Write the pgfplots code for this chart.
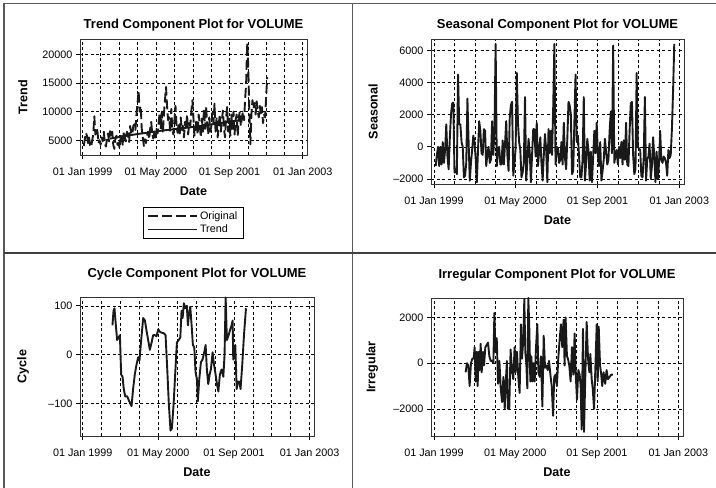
\documentclass[border=0pt]{standalone}
\usepackage{pgfplots}
\pgfplotsset{compat=1.18}
\usepackage{fontspec}
\setmainfont{Liberation Sans}

\pgfplotsset{
  dl/.style={black!90, line width=1.9pt, line join=round, mark=none},
  sas/.style={
    scale only axis, anchor=south west,
    axis line style={black!80, line width=0.8pt},
    xmin=-18, xmax=1489,
    xtick={0,486,974,1461},
    xticklabels={01 Jan 1999,01 May 2000,01 Sep 2001,01 Jan 2003},
    minor xtick={120,243,365,609,731,851,1096,1216,1339},
    xmajorgrids, xminorgrids, ymajorgrids,
    grid style={black, dash pattern=on 3pt off 2.5pt, line width=0.6pt},
    minor grid style={black, dash pattern=on 3pt off 2.5pt, line width=0.6pt},
    tick align=outside, tick pos=left,
    major tick length=4pt, minor tick length=0pt,
    tick style={black, line width=0.7pt},
    scaled y ticks=false,
    tick label style={font=\fontsize{10.8}{12}\selectfont},
    xticklabel style={yshift=-5pt},
    title style={font=\bfseries\fontsize{13}{15}\selectfont, at={(0.5,1)}, anchor=base},
    label style={font=\bfseries\fontsize{12.6}{14}\selectfont},
    xlabel={Date},
    xlabel style={at={(axis description cs:0.5,0)}, anchor=base, yshift=-40.5pt},
  },
}

\begin{document}
\begin{tikzpicture}[x=1pt,y=1pt]
\useasboundingbox (0,0) rectangle (716,488);
\draw[black!65, line width=1.2pt] (4,0) -- (4,484.5) -- (716,484.5);
\draw[black!65, line width=1.2pt] (352.7,0) -- (352.7,484.5);
\draw[black!75, line width=1.1pt] (4,235) -- (716,235);

% ---- Trend ----
\begin{axis}[sas, at={(80pt,333pt)}, width=227pt, height=116pt,
    ymin=2436, ymax=22668,
    ytick={5000,10000,15000,20000}, yticklabels={5000,10000,15000,20000},
    title={Trend Component Plot for VOLUME}, title style={yshift=4pt},
    ylabel={Trend}, ylabel style={at={(axis description cs:-0.2522,0.5)}, anchor=center},
    legend style={at={(axis description cs:0.5,-0.448)}, anchor=north,
      draw=black, line width=0.6pt, font=\fontsize{10.8}{12}\selectfont,
      row sep=0.5pt, inner xsep=4pt, inner ysep=2pt},
    legend cell align=left,
    legend image code/.code={\draw[#1, line width=1.3pt] (0pt,0pt) -- (49pt,0pt);},
]
\addplot[dl, dash pattern=on 10pt off 4pt] table[header=false, x expr=\coordindex*7+7, y index=0] {
4000
5200
6300
5800
4500
5500
4200
3800
5000
6000
9200
6000
7200
6500
4500
5000
4200
5500
4800
6500
4500
3900
5200
6200
4800
6600
5500
6500
4200
3500
5300
5800
4200
4600
3600
5600
6200
4000
6600
5500
4800
6500
5800
4700
7500
6200
6000
7500
7800
6800
9500
11500
13700
10000
11000
7000
5500
4000
5200
4500
5800
6500
5200
7000
8200
6000
5300
6800
5500
7000
6200
8000
9800
7000
10000
6200
9500
12000
14300
11000
8500
9000
6500
10500
7000
6000
8500
11000
7500
6300
8000
5800
9000
6800
7500
5500
8200
7000
9500
6000
8000
7500
10000
12000
9000
5800
7500
8500
6000
9500
7800
5500
8800
6500
10500
7000
11000
8000
6000
9000
6500
7500
9800
8000
11400
6500
9000
5500
7800
9500
6500
8500
10200
7000
5500
9000
10800
6500
8800
5800
9500
7000
10000
6000
8500
9500
5800
9000
10000
7500
9000
10000
8500
12000
15000
22000
18000
10000
4300
9500
12000
10500
11500
9500
11800
10000
9000
11000
9500
10800
8000
9500
9000
12800
16000
};
\addlegendentry{Original}
\addplot[dl, smooth] coordinates {
(182,5300) (260,5650) (340,6000) (420,6300) (500,6600) (580,6850)
(660,7100) (740,7350) (820,7650) (900,7950) (980,8250) (1060,8550)
};
\addlegendentry{Trend}
\end{axis}

% ---- Seasonal ----
\begin{axis}[sas, at={(431pt,304pt)}, width=253pt, height=145pt,
    ymin=-2311, ymax=6709,
    ytick={-2000,0,2000,4000,6000}, yticklabels={–2000,0,2000,4000,6000},
    title={Seasonal Component Plot for VOLUME}, title style={yshift=4pt},
    ylabel={Seasonal}, ylabel style={at={(axis description cs:-0.229,0.5)}, anchor=center},
]
\addplot[dl] table[header=false, x expr=\coordindex*7+10, y index=0] {
-1200
-500
0
-1200
0
-1100
300
-1000
-200
1400
-600
-1400
500
2000
2700
2750
-1600
-1400
-1700
4500
1400
1400
300
0
-1900
-1800
-1000
3000
300
-2100
-1000
-200
700
300
-700
-2200
-200
1600
1000
-400
-500
1100
1000
-1200
-400
0
-1000
-800
1600
-500
1000
6400
-1200
-200
0
-1100
-1100
400
-1100
200
1600
-500
-1500
1800
2600
2800
-1800
-1000
-100
4600
1500
300
-200
-1900
-1600
-1000
3100
-2100
-900
500
-300
-2200
-500
1100
1100
-600
1500
-1200
-300
600
-1000
-2100
-500
800
-200
-2200
1100
-400
1000
-500
2500
6400
-1100
0
-100
-1000
-800
300
-1100
1500
-700
-1400
500
2800
2600
2000
-1700
-1500
1500
4500
300
700
-600
-1900
-1900
-800
3100
-2100
-1000
500
-200
-2100
-300
-2200
-600
1000
-400
1500
-500
-1200
300
-2100
-1500
-800
500
-300
-1100
-800
1000
2200
-400
6300
-1000
-500
-200
-1100
0
-700
300
-1100
400
-800
1500
-1100
-1200
1000
2700
2800
-500
-1700
-1400
4600
0
-100
-200
-1800
-1900
-700
3100
-2100
-800
-600
200
-2000
-1200
600
-600
-2200
-300
-2000
-1100
1000
-800
-1000
-600
-700
-1000
-1800
-200
-700
-500
1100
3500
6400
};
\end{axis}

% ---- Cycle ----
\begin{axis}[sas, at={(80pt,52pt)}, width=234pt, height=139pt,
    ymin=-166, ymax=118,
    ytick={-100,0,100}, yticklabels={–100,0,100},
    title={Cycle Component Plot for VOLUME}, title style={yshift=13pt},
    ylabel={Cycle}, ylabel style={at={(axis description cs:-0.2436,0.5)}, anchor=center},
]
\addplot[dl] table {
x y
191 60
198 90
204 95
213 60
221 30
230 35
239 40
247 -40
256 -45
264 -70
273 -85
286 -85
299 -95
314 -105
324 -70
335 -40
346 -20
357 -5
365 -12
376 30
389 75
400 70
410 50
421 30
432 10
443 25
453 40
464 40
475 38
486 52
496 47
509 45
522 44
533 40
544 -30
554 -100
565 -155
574 -150
585 -100
595 -40
606 25
617 30
628 35
636 90
643 75
651 105
660 95
670 100
677 60
683 80
692 98
701 60
709 20
718 15
726 -35
735 -50
741 -95
750 -50
761 -15
771 -10
782 5
791 20
799 -30
808 -60
817 -40
825 -30
836 5
845 -20
855 -40
864 -60
873 -75
883 -40
894 -30
905 -45
913 0
920 117
928 30
939 40
948 50
958 60
965 70
969 -10
976 10
982 20
991 -70
999 -55
1008 -55
1016 -70
1027 -20
1038 40
1051 95
};
\end{axis}

% ---- Irregular ----
\begin{axis}[sas, at={(431pt,52pt)}, width=252pt, height=138pt,
    ymin=-3183, ymax=2850,
    ytick={-2000,0,2000}, yticklabels={–2000,0,2000},
    title={Irregular Component Plot for VOLUME}, title style={yshift=13pt},
    ylabel={Irregular}, ylabel style={at={(axis description cs:-0.234,0.5)}, anchor=center},
]
\addplot[dl] table {
x y
189 -400
197 0
205 -100
213 -1000
221 0
229 200
237 200
243 700
249 -800
255 500
261 -1000
267 500
273 -300
279 850
285 -400
293 500
299 -100
307 700
315 800
323 900
331 300
339 100
347 100
355 0
361 2200
367 500
375 1100
383 -900
391 100
399 -1100
407 -1700
415 -600
423 -2000
428 -1000
436 100
442 -2000
450 -2000
458 600
466 -300
474 -700
482 700
488 -400
496 500
504 -600
512 -1300
520 1700
526 200
534 1000
540 2800
546 500
552 0
558 -1100
564 2850
570 1500
576 -800
582 300
588 -800
594 0
602 -800
610 700
618 1700
624 -400
632 -600
640 300
648 -1900
656 1200
664 -200
672 -100
680 -300
688 100
696 -500
704 -1000
712 -2300
719 -600
727 -500
735 -1000
743 200
751 1000
759 1700
767 700
775 1900
781 -100
787 2000
795 300
801 200
809 -100
817 -800
825 700
833 -500
841 1300
847 -400
855 -1600
863 -300
871 -500
877 -1000
883 -2900
891 1500
897 -3000
905 -500
913 1800
921 200
929 -400
935 400
943 -700
949 -1100
957 -2000
965 -200
973 1700
979 -800
985 1600
993 -100
1000 -500
1006 -1000
1014 -400
1024 -900
1032 -300
1040 -700
1050 -600
1060 -500
1070 -500
};
\end{axis}
\end{tikzpicture}
\end{document}
